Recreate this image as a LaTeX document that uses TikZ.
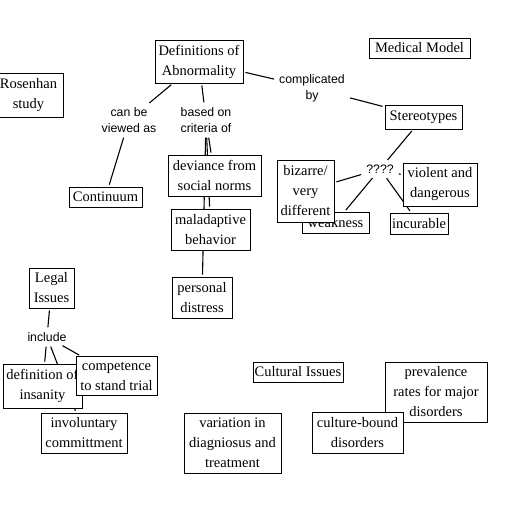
\documentclass[tikz,border=0pt]{standalone}
\usepackage{fontspec}
\setmainfont{Liberation Serif}
\newfontfamily\lsans{Liberation Sans}
\pgfdeclarelayer{back}
\pgfdeclarelayer{lines}
\pgfsetlayers{back,lines,main}
\tikzset{
  concept/.style={draw, fill=white, line width=0.9pt, align=center, inner sep=0pt,
    font=\fontsize{14.5pt}{20pt}\selectfont},
  linkph/.style={align=center, inner sep=3pt, font=\lsans\fontsize{12.3pt}{16pt}\selectfont},
  conn/.style={line width=1.1pt, shorten >=2pt, shorten <=2pt}
}
\begin{document}
\begin{tikzpicture}[x=1pt,y=-1pt]
\begin{pgfonlayer}{back}
\fill[white] (0,0) rectangle (527,514);
\end{pgfonlayer}
\useasboundingbox (0,0) rectangle (527,514);

% concepts
\node[concept, minimum width=88pt, minimum height=43pt] (def) at (199,61.5) {Definitions of\\Abnormality};
\node[concept, minimum width=70pt, minimum height=44pt] (rosen) at (28.5,95.5) {Rosenhan\\study};
\node[concept, minimum width=73pt, minimum height=20pt] (cont) at (105.5,197) {Continuum};
\node[concept, minimum width=93pt, minimum height=41pt] (dev) at (214.5,175.5) {deviance from\\social norms};
\node[concept, minimum width=79pt, minimum height=41pt] (mal) at (210.5,229.5) {maladaptive\\behavior};
\node[concept, minimum width=60pt, minimum height=41pt] (dist) at (202,297.5) {personal\\distress};
\node[concept, minimum width=101pt, minimum height=20pt] (med) at (419.5,48) {Medical Model};
\node[concept, minimum width=77pt, minimum height=24pt] (ster) at (423.5,117) {Stereotypes};
\node[concept, minimum width=67pt, minimum height=21pt] (weak) at (335.5,222.5) {weakness};
\node[concept, minimum width=57pt, minimum height=62pt] (biz) at (305.5,191) {bizarre/\\very\\different};
\node[concept, minimum width=74pt, minimum height=43pt] (viol) at (440,184.5) {violent and\\dangerous};
\node[concept, minimum width=58pt, minimum height=21pt] (incur) at (419,223.5) {incurable};
\node[concept, minimum width=45pt, minimum height=40pt] (legal) at (51.5,288) {Legal\\Issues};
\node[concept, minimum width=79pt, minimum height=44pt] (insan) at (42.5,386) {definition of\\insanity};
\node[concept, minimum width=81pt, minimum height=39pt] (comp) at (116.5,376) {competence\\to stand trial};
\node[concept, minimum width=86pt, minimum height=40pt] (invol) at (84,433) {involuntary\\committment};
\node[concept, minimum width=97pt, minimum height=60pt] (var) at (232.5,443) {variation in\\diagniosus and\\treatment};
\node[concept, minimum width=90pt, minimum height=20pt] (cult) at (298,372) {Cultural Issues};
\node[concept, minimum width=102pt, minimum height=60pt] (prev) at (436,392) {prevalence\\rates for major\\disorders};
\node[concept, minimum width=91pt, minimum height=41pt] (cbound) at (357.5,432.5) {culture-bound\\disorders};

% linking phrases
\node[linkph] (canbe) at (129,120) {can be\\viewed as};
\node[linkph] (based) at (206,120) {based on\\criteria of};
\node[linkph] (compl) at (312,88) {complicated\\by};
\node[linkph] (quest) at (380,169) {????};
\node[linkph] (incl) at (47,337) {include};

\begin{pgfonlayer}{lines}
\draw[conn] (def) -- (canbe);
\draw[conn] (canbe) -- (cont);
\draw[conn] (def) -- (based);
\draw[conn] (based) -- (dev);
\draw[conn] (based) -- (mal);
\draw[conn] (based) -- (dist);
\draw[conn] (def) -- (compl);
\draw[conn] (compl) -- (ster);
\draw[conn] (ster) -- (quest);
\draw[conn] (quest) -- (biz);
\draw[conn] (quest) -- (weak);
\draw[conn] (quest) -- (viol);
\draw[conn] (quest) -- (incur);
\draw[conn] (legal) -- (incl);
\draw[conn] (incl) -- (insan);
\draw[conn] (incl) -- (invol);
\draw[conn] (incl) -- (comp);
\end{pgfonlayer}
\end{tikzpicture}
\end{document}
